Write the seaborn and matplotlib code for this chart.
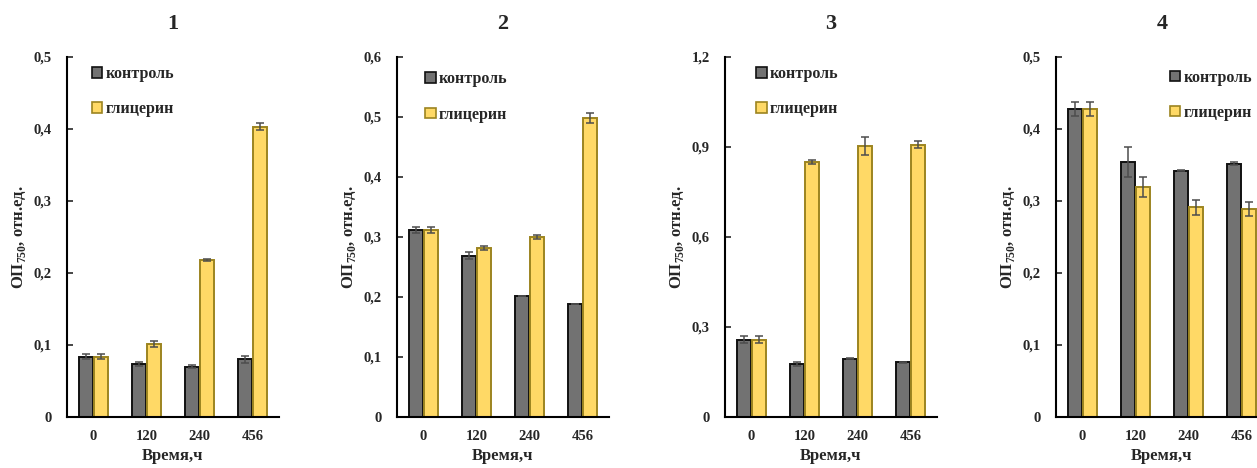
import matplotlib
matplotlib.use('Agg')
import matplotlib.pyplot as plt
import matplotlib.ticker as mticker
from matplotlib.patches import Patch
import pandas as pd
import seaborn as sns

times = ['0', '120', '240', '456']
groups = ['контроль', 'глицерин']
titles = ['1', '2', '3', '4']

# OD750 per panel: control / glycerol, with error bars
ctrl_1 = [0.084, 0.074, 0.070, 0.080]
glyc_1 = [0.084, 0.101, 0.218, 0.403]
ctrl_err_1 = [0.004, 0.003, 0.002, 0.005]
glyc_err_1 = [0.004, 0.004, 0.002, 0.005]

ctrl_2 = [0.311, 0.269, 0.202, 0.189]
glyc_2 = [0.311, 0.282, 0.300, 0.498]
ctrl_err_2 = [0.005, 0.006, 0.0, 0.0]
glyc_err_2 = [0.005, 0.003, 0.004, 0.008]

ctrl_3 = [0.258, 0.176, 0.195, 0.183]
glyc_3 = [0.258, 0.850, 0.905, 0.908]
ctrl_err_3 = [0.012, 0.007, 0.002, 0.002]
glyc_err_3 = [0.012, 0.008, 0.030, 0.012]

ctrl_4 = [0.428, 0.354, 0.342, 0.352]
glyc_4 = [0.428, 0.320, 0.291, 0.289]
ctrl_err_4 = [0.010, 0.021, 0.001, 0.002]
glyc_err_4 = [0.010, 0.014, 0.010, 0.010]

y_max = [0.5, 0.6, 1.2, 0.5]
y_step = [0.1, 0.1, 0.3, 0.1]

panels = [(ctrl_1, glyc_1, ctrl_err_1, glyc_err_1),
          (ctrl_2, glyc_2, ctrl_err_2, glyc_err_2),
          (ctrl_3, glyc_3, ctrl_err_3, glyc_err_3),
          (ctrl_4, glyc_4, ctrl_err_4, glyc_err_4)]

fill_colors = ['#727272', '#FFD966']
edge_colors = ['#111111', '#9C8420']

sns.set_style('white')
plt.rcParams['font.family'] = ['Liberation Serif', 'DejaVu Serif']
plt.rcParams['font.weight'] = 'bold'
plt.rcParams['mathtext.fontset'] = 'custom'
plt.rcParams['mathtext.rm'] = 'Liberation Serif'

fig = plt.figure(figsize=(12.57, 4.68), dpi=100)

lefts = [67, 397, 725, 1056]
leg_x = [0.05, 0.065, 0.08, 0.47]
leg_y = [1.015, 1.0, 1.015, 1.005]
W, H = 1257.0, 468.0

for i, (c, g, ce, ge) in enumerate(panels):
    ax = fig.add_axes([lefts[i] / W, (H - 417) / H, 212 / W, 360 / H])
    df = pd.DataFrame({
        'time': times * 2,
        'group': [groups[0]] * 4 + [groups[1]] * 4,
        'value': c + g,
    })
    sns.barplot(data=df, x='time', y='value', hue='group', order=times,
                hue_order=groups, palette=fill_colors, saturation=1,
                width=0.56, gap=0.1, linewidth=1.4, errorbar=None,
                legend=False, ax=ax)
    for cont, ec, errs in zip(ax.containers, edge_colors, [ce, ge]):
        xs, hs = [], []
        for bar in cont:
            bar.set_edgecolor(ec)
            xs.append(bar.get_x() + bar.get_width() / 2)
            hs.append(bar.get_height())
        ax.errorbar(xs, hs, yerr=errs, fmt='none', ecolor='#4d4d4d',
                    elinewidth=1.1, capsize=3, capthick=1.1, zorder=5)

    ax.set_ylim(0, y_max[i])
    ax.set_xlim(-0.5, 3.5)
    ax.yaxis.set_major_locator(mticker.MultipleLocator(y_step[i]))
    ax.yaxis.set_major_formatter(mticker.FuncFormatter(
        lambda v, _: '0' if abs(v) < 1e-9 else f'{v:.1f}'.replace('.', ',')))
    ax.tick_params(axis='y', direction='in', length=4, width=1.2,
                   labelsize=10.5, pad=11, left=True)
    ax.tick_params(axis='x', length=0, labelsize=10.5, pad=9)
    for lab in ax.get_xticklabels() + ax.get_yticklabels():
        lab.set_fontweight('bold')

    sns.despine(ax=ax)
    for s in ['left', 'bottom']:
        ax.spines[s].set_color('black')
        ax.spines[s].set_linewidth(1.5)

    ax.set_xlabel('Время,ч', fontsize=12, fontweight='bold', labelpad=4)
    ax.set_ylabel(r'ОП$_{\mathrm{750}}$, отн.ед.', fontsize=12,
                  fontweight='bold', labelpad=4)
    ax.set_title(titles[i], fontsize=16, fontweight='bold', pad=20)

    handles = [Patch(facecolor=fc, edgecolor=ec, linewidth=1.2)
               for fc, ec in zip(fill_colors, edge_colors)]
    ax.legend(handles, groups, loc='upper left',
              bbox_to_anchor=(leg_x[i], leg_y[i]), frameon=False,
              handlelength=0.65, handleheight=0.65, handletextpad=0.2,
              labelspacing=1.2, prop={'weight': 'bold', 'size': 11.5})

fig.savefig('out.png', dpi=100)
